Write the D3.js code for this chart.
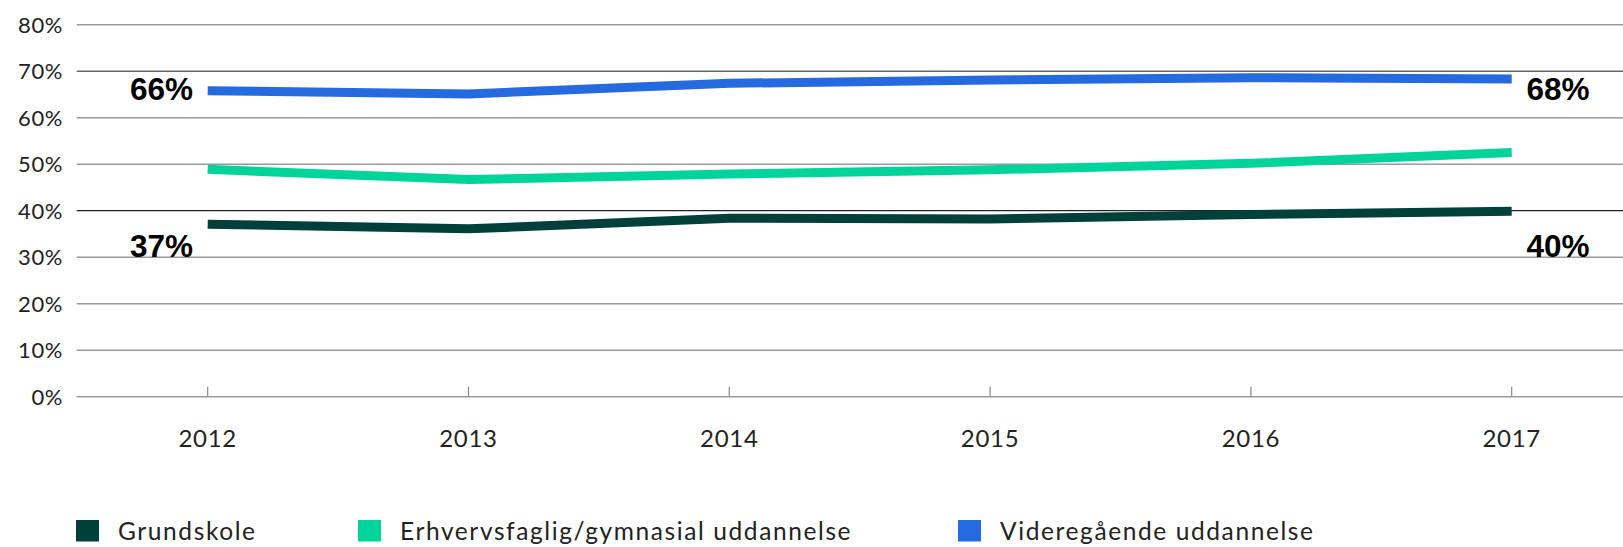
<!DOCTYPE html>
<html><head><meta charset="utf-8">
<script src="https://cdn.jsdelivr.net/npm/d3@7"></script>
<style>html,body{margin:0;padding:0;background:#fff;}svg{display:block;}</style>
</head><body>
<svg id="chart" width="1623" height="547"></svg>
<script>
const years = ["2012","2013","2014","2015","2016","2017"];
const grundskole = [37.1, 36.1, 38.4, 38.2, 39.2, 39.9];
const erhverv = [48.9, 46.7, 47.9, 48.8, 50.2, 52.5];
const videre = [65.8, 65.1, 67.4, 68.1, 68.6, 68.3];
const seriesNames = ["Grundskole", "Erhvervsfaglig/gymnasial uddannelse", "Videregående uddannelse"];
const seriesColors = ["#00403a", "#00d49a", "#256adf"];
const yTicks = [0,10,20,30,40,50,60,70,80];
const startLabels = ["37%", "66%"];
const endLabels = ["40%", "68%"];

const svg = d3.select("#chart");
const x = d3.scalePoint().domain(years).range([207.7, 1511.7]);
const y = d3.scaleLinear().domain([0,80]).range([396.7, 24.7]);
const font = "Lato, sans-serif";

// gridlines
svg.append("g").selectAll("line").data(yTicks).join("line")
  .attr("x1", 76.7).attr("x2", 1623)
  .attr("y1", d=>y(d)).attr("y2", d=>y(d))
  .attr("stroke", d => d===40 ? "#222" : (d===70 ? "#666" : "#9a9a9a"))
  .attr("stroke-width", d => d===40 ? 1.2 : 1.4);

// y labels
svg.append("g").selectAll("text").data(yTicks).join("text")
  .attr("x", 63).attr("y", d=>y(d)).attr("dy", "0.36em")
  .attr("text-anchor","end").attr("font-family", font).attr("font-size", 22)
  .attr("letter-spacing", 0.6)
  .attr("fill","#222").text(d=>d+"%");

// x ticks
svg.append("g").selectAll("line").data(years).join("line")
  .attr("x1", d=>x(d)).attr("x2", d=>x(d))
  .attr("y1", y(0)-10).attr("y2", y(0))
  .attr("stroke","#888").attr("stroke-width",1.2);

svg.append("g").selectAll("text").data(years).join("text")
  .attr("x", d=>x(d)).attr("y", 447)
  .attr("text-anchor","middle").attr("font-family", font).attr("font-size", 24)
  .attr("letter-spacing", 0.7)
  .attr("fill","#222").text(d=>d);

// lines
const allSeries = [grundskole, erhverv, videre];
const line = d3.line().x((d,i)=>x(years[i])).y(d=>y(d));
svg.append("g").selectAll("path").data(allSeries).join("path")
  .attr("d", d=>line(d)).attr("fill","none")
  .attr("stroke", (d,i)=>seriesColors[i]).attr("stroke-width", 9)
  .attr("stroke-linecap","butt").attr("stroke-linejoin","round");

// end labels
const lf = "'Liberation Sans', Arial, sans-serif";
svg.append("g").selectAll("text").data(startLabels).join("text")
  .attr("x", 193).attr("y", (d,i)=> i===0 ? 257 : 100)
  .attr("text-anchor","end").attr("font-family", lf).attr("font-weight","bold")
  .attr("font-size", 31.5).attr("fill","#000").text(d=>d);
svg.append("g").selectAll("text").data(endLabels).join("text")
  .attr("x", 1526.5).attr("y", (d,i)=> i===0 ? 257 : 100)
  .attr("text-anchor","start").attr("font-family", lf).attr("font-weight","bold")
  .attr("font-size", 31.5).attr("fill","#000").text(d=>d);

// legend
const legX = [76, 358, 958];
const leg = svg.append("g").selectAll("g").data(seriesNames).join("g")
  .attr("transform", (d,i)=>`translate(${legX[i]},0)`);
leg.append("rect").attr("x",0).attr("y",520).attr("width",23).attr("height",21.5)
  .attr("fill",(d,i)=>seriesColors[i]);
leg.append("text").attr("x",42).attr("y",540).attr("font-family",font)
  .attr("font-size",24.5).attr("letter-spacing",1.6).attr("fill","#222").text(d=>d);
</script>
</body></html>
